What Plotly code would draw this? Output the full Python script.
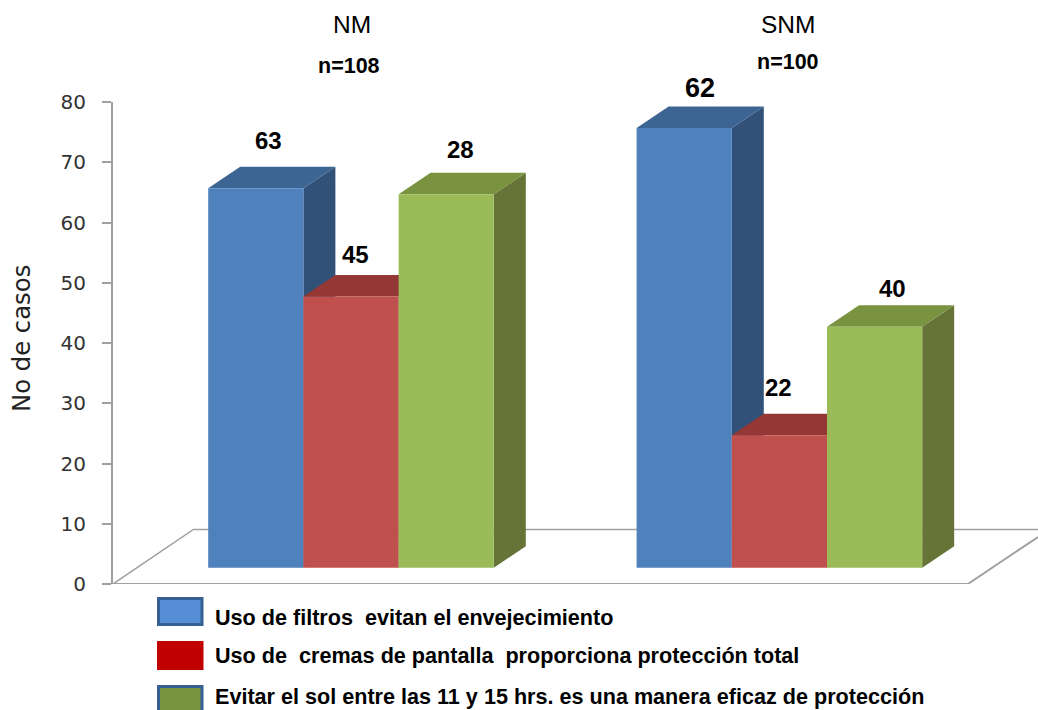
import plotly.graph_objects as go

categories = ["NM", "SNM"]
group_sizes = ["n=108", "n=100"]
series_names = [
    "Uso de filtros  evitan el envejecimiento",
    "Uso de  cremas de pantalla  proporciona protección total",
    "Evitar el sol entre las 11 y 15 hrs. es una manera eficaz de protección",
]
# bar heights as drawn against the axis
filtros = [63, 73]
cremas = [45, 22]
evitar = [62, 40]
# numbers printed over the bars in the source picture
filtros_labels = ["63", "62"]
cremas_labels = ["45", "22"]
evitar_labels = ["28", "40"]
tick_values = [0, 10, 20, 30, 40, 50, 60, 70, 80]

W, H = 1038, 710
L, T, B = 113, 102, 584
XMAX = (W - L) / 95.2
px = lambda v: (v - L) / (W - L)
py = lambda v: (B - v) / (B - T)

FLOOR = 2.7      # bars stand this far above the axis zero
DX, DY = 0.336, 3.57  # depth of the box in axis units
group_x = [[1.5, 2.5, 3.5], [6.0, 7.0, 8.0]]

front = ["#4f81bd", "#c0504d", "#9bbb59"]
top = ["#3d6594", "#953735", "#7a9340"]
side = ["#325178", "#7a2e2c", "#667537"]

fig = go.Figure()

# floor outline
GRID = "#a0a0a0"
fig.add_trace(go.Scatter(x=[0, 0.845, XMAX], y=[0, 9.05, 9.05], mode="lines",
                         line=dict(color=GRID, width=1.5), hoverinfo="skip", showlegend=False))
fig.add_trace(go.Scatter(x=[0, 8.98, XMAX], y=[0, 0, 7.8], mode="lines",
                         line=dict(color=GRID, width=2), hoverinfo="skip", showlegend=False, cliponaxis=False))

series = [filtros, cremas, evitar]
for g in range(2):
    for s in range(3):
        cx = group_x[g][s]
        v = series[s][g] + FLOOR
        l, r = cx - 0.5, cx + 0.5
        fig.add_trace(go.Scatter(
            x=[r, r + DX, r + DX, r, r], y=[FLOOR, FLOOR + DY, v + DY, v, FLOOR],
            fill="toself", fillcolor=side[s], mode="none", hoverinfo="skip", showlegend=False))
        fig.add_trace(go.Scatter(
            x=[l, l + DX, r + DX, r, l], y=[v, v + DY, v + DY, v, v],
            fill="toself", fillcolor=top[s], mode="none", hoverinfo="skip", showlegend=False))

# front faces sit on an overlaid pair of axes so they cover the depth faces
for s in range(3):
    fig.add_trace(go.Bar(
        x=[group_x[0][s], group_x[1][s]], y=series[s], base=FLOOR, width=1,
        marker=dict(color=front[s], line=dict(width=0)), name=series_names[s],
        xaxis="x2", yaxis="y2", showlegend=False))

annotations = []
def text(x, y, s, size, bold=False, family="Liberation Sans", color="#000000", **kw):
    annotations.append(dict(xref="paper", yref="paper", x=px(x), y=py(y), text=f"<b>{s}</b>" if bold else s,
                            showarrow=False, font=dict(family=family, size=size, color=color),
                            xanchor=kw.pop("xanchor", "center"), yanchor="middle", **kw))

text(352, 25, categories[0], 24.5)
text(788, 25, categories[1], 24.5)
text(349, 66, group_sizes[0], 21.5, True)
text(788, 62, group_sizes[1], 21.5, True)

label_pos = [
    [(268, 140, 24), (355, 254, 24), (460, 149, 24)],
    [(700, 88, 27), (778, 387, 24), (892, 288, 24)],
]
labels = [filtros_labels, cremas_labels, evitar_labels]
for g in range(2):
    for s in range(3):
        x, y, size = label_pos[g][s]
        text(x, y, labels[s][g], size, True)

text(21, 339, "No de casos", 24.3, family="DejaVu Sans", color="#222222", textangle=-90)

legend_y = [(597, 626), (641, 670), (685, 714)]
legend_fill = ["#558ed5", "#c00000", "#77933c"]
legend_edge = ["#376092", "#c00000", "#376092"]
shapes = []
for i in range(3):
    y0, y1 = legend_y[i]
    shapes.append(dict(type="rect", xref="paper", yref="paper", x0=px(158.5), x1=px(202), y0=py(y0 + 1.5), y1=py(y1 - 1.5),
                       fillcolor=legend_fill[i], line=dict(color=legend_edge[i], width=3)))
    text(212.5, (617, 655, 696)[i], series_names[i], 21.6, True, xanchor="left")

axis_font = dict(family="DejaVu Sans", size=20, color="#333333")
fig.update_layout(
    width=W, height=H, margin=dict(l=L, r=0, t=T, b=H - B),
    paper_bgcolor="white", plot_bgcolor="white", showlegend=False,
    annotations=annotations, shapes=shapes, barmode="overlay",
    xaxis=dict(range=[0, XMAX], visible=False, fixedrange=True),
    yaxis=dict(range=[0, 80], tickvals=tick_values, showgrid=False, zeroline=False,
               showline=True, linecolor="#a0a0a0", linewidth=2,
               ticks="outside", ticklen=9, tickcolor="#a0a0a0", tickwidth=2,
               tickfont=axis_font, ticklabelstandoff=12, fixedrange=True),
    xaxis2=dict(range=[0, XMAX], visible=False, overlaying="x", fixedrange=True),
    yaxis2=dict(range=[0, 80], visible=False, overlaying="y", fixedrange=True),
)

fig.write_html("out.html", config=dict(displayModeBar=False),
               post_script="document.body.style.margin='0';document.body.style.overflow='hidden';")
